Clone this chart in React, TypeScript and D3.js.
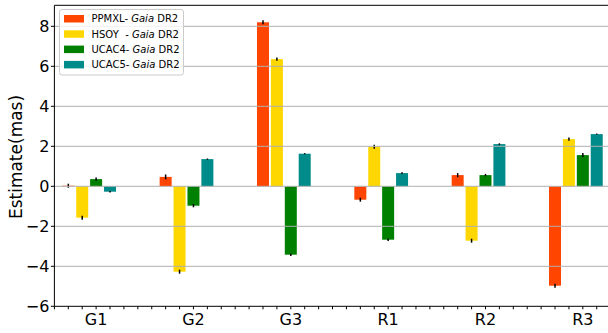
import React from "react";
import * as d3 from "d3";

const groups = ["G1", "G2", "G3", "R1", "R2", "R3"];
const seriesNames = ["PPMXL", "HSOY\u00a0\u00a0", "UCAC4", "UCAC5"];
const ppmxl = [0.03, 0.47, 8.2, -0.67, 0.56, -4.97];
const hsoy = [-1.57, -4.27, 6.36, 1.98, -2.72, 2.36];
const ucac4 = [0.36, -0.97, -3.42, -2.67, 0.56, 1.56];
const ucac5 = [-0.27, 1.36, 1.63, 0.66, 2.11, 2.61];
const ppmxlErr = [0.1, 0.12, 0.1, 0.1, 0.1, 0.1];
const hsoyErr = [0.1, 0.1, 0.08, 0.1, 0.1, 0.08];
const ucac4Err = [0.08, 0.08, 0.06, 0.06, 0.06, 0.1];
const ucac5Err = [0.04, 0.03, 0.03, 0.04, 0.04, 0.03];
const yTicks = [-6, -4, -2, 0, 2, 4, 6, 8];
const colors = ["#FF4500", "#FFD700", "#008000", "#008B8B"];

const values = [ppmxl, hsoy, ucac4, ucac5];
const errors = [ppmxlErr, hsoyErr, ucac4Err, ucac5Err];

export default function App() {
  const W = 608, H = 333;
  const slotsPerGroup = 7;
  const x = d3.scaleLinear().domain([-1, 42]).range([54.4, 54.4 + 43 * 13.906]);
  const y = d3.scaleLinear().domain([-6, 9.05]).range([306.3, 5.3]);
  const bw = 12;
  const left = x(-1);
  const right = W + 5;
  const top = y(9.05);
  const bottom = y(-6);
  const slots = d3.range(-1, 42);
  const font = "DejaVu Sans, sans-serif";

  const bars: any[] = [];
  values.forEach((vals, s) => {
    vals.forEach((v, g) => {
      const k = g * slotsPerGroup + s;
      bars.push({ k, v, s, e: errors[s][g] });
    });
  });

  return (
    <svg width={W} height={H} style={{ position: "absolute", left: 0, top: 0 }}>
      <rect x={0} y={0} width={W} height={H} fill="#fff" />
      {bars.map((b, i) => (
        <rect
          key={"b" + i}
          x={x(b.k) - bw / 2}
          width={bw}
          y={Math.min(y(b.v), y(0))}
          height={Math.abs(y(b.v) - y(0))}
          fill={colors[b.s]}
        />
      ))}
      {bars.map((b, i) => (
        <line
          key={"e" + i}
          x1={x(b.k)}
          x2={x(b.k)}
          y1={y(b.v - b.e)}
          y2={y(b.v + b.e)}
          stroke="#000"
          strokeWidth={1.5}
        />
      ))}
      {yTicks.filter((t) => t > -6).map((t) => (
        <line key={"g" + t} x1={left} x2={right} y1={y(t)} y2={y(t)} stroke="#b0b0b0" strokeWidth={1} />
      ))}
      {/* spines */}
      <line x1={left} x2={left} y1={top} y2={bottom} stroke="#000" strokeWidth={1} />
      <line x1={left} x2={right} y1={bottom} y2={bottom} stroke="#000" strokeWidth={1} />
      <line x1={left} x2={right} y1={top} y2={top} stroke="#000" strokeWidth={1} />
      {/* y ticks */}
      {yTicks.map((t) => (
        <g key={"yt" + t}>
          <line x1={left - 3.5} x2={left} y1={y(t)} y2={y(t)} stroke="#000" strokeWidth={1} />
          <text x={left - 5} y={y(t)} dy="0.36em" textAnchor="end" fontFamily={font} fontSize={16} fill="#000">
            {t < 0 ? "\u2212" + Math.abs(t) : String(t)}
          </text>
        </g>
      ))}
      {/* x ticks */}
      {slots.map((k) => (
        <line key={"xt" + k} x1={x(k)} x2={x(k)} y1={bottom} y2={bottom + 3} stroke="#000" strokeWidth={1} />
      ))}
      {groups.map((g, i) => (
        <text key={"xl" + g} x={x(i * slotsPerGroup + 2)} y={325} textAnchor="middle" fontFamily={font} fontSize={16} fill="#000">
          {g}
        </text>
      ))}
      <text
        transform={`translate(22,157) rotate(-90)`}
        textAnchor="middle"
        fontFamily={font}
        fontSize={17}
        fill="#000"
      >
        Estimate(mas)
      </text>
      {/* legend */}
      <rect x={59.5} y={9.5} width={124} height={65.5} rx={2.5} fill="#fff" fillOpacity={0.8} stroke="#cccccc" strokeWidth={1} />
      {seriesNames.map((n, i) => (
        <g key={"lg" + i}>
          <rect x={64} y={15 + i * 15.3} width={20} height={7.5} fill={colors[i]} />
          <text x={91.5} y={18.7 + i * 15.3} dy="0.36em" fontFamily={font} fontSize={10} fill="#000">
            {n + "-\u00a0"}
            <tspan fontStyle="italic">Gaia</tspan>
            {"\u00a0DR2"}
          </text>
        </g>
      ))}
    </svg>
  );
}
